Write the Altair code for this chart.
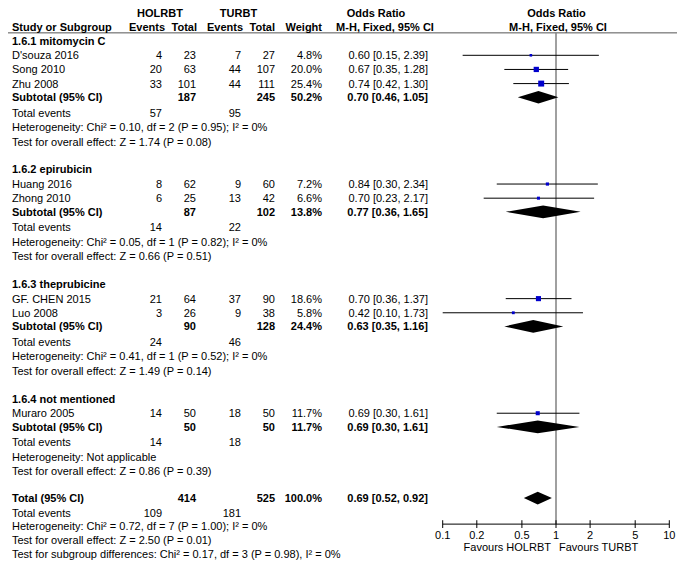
import altair as alt
import pandas as pd

# ---------------- data ----------------
groups = ["1.6.1 mitomycin C", "1.6.2 epirubicin", "1.6.3 theprubicine", "1.6.4 not mentioned"]
studies = ["D'souza 2016", "Song 2010", "Zhu 2008", "Huang 2016", "Zhong 2010",
           "GF. CHEN 2015", "Luo 2008", "Muraro 2005"]
study_group = [0, 0, 0, 1, 1, 2, 2, 3]
hol_events = [4, 20, 33, 8, 6, 21, 3, 14]
hol_total = [23, 63, 101, 62, 25, 64, 26, 50]
tur_events = [7, 44, 44, 9, 13, 37, 9, 18]
tur_total = [27, 107, 111, 60, 42, 90, 38, 50]
weights = [4.8, 20.0, 25.4, 7.2, 6.6, 18.6, 5.8, 11.7]
or_est = [0.60, 0.67, 0.74, 0.84, 0.70, 0.70, 0.42, 0.69]
or_lo = [0.15, 0.35, 0.42, 0.30, 0.23, 0.36, 0.10, 0.30]
or_hi = [2.39, 1.28, 1.30, 2.34, 2.17, 1.37, 1.73, 1.61]

sub_hol_total = [187, 87, 90, 50]
sub_tur_total = [245, 102, 128, 50]
sub_weight = [50.2, 13.8, 24.4, 11.7]
sub_est = [0.70, 0.77, 0.63, 0.69]
sub_lo = [0.46, 0.36, 0.35, 0.30]
sub_hi = [1.05, 1.65, 1.16, 1.61]
sub_hol_events = [57, 14, 24, 14]
sub_tur_events = [95, 22, 46, 18]
sub_heterogeneity = [
    "Heterogeneity: Chi² = 0.10, df = 2 (P = 0.95); I² = 0%",
    "Heterogeneity: Chi² = 0.05, df = 1 (P = 0.82); I² = 0%",
    "Heterogeneity: Chi² = 0.41, df = 1 (P = 0.52); I² = 0%",
    "Heterogeneity: Not applicable",
]
sub_overall = [
    "Test for overall effect: Z = 1.74 (P = 0.08)",
    "Test for overall effect: Z = 0.66 (P = 0.51)",
    "Test for overall effect: Z = 1.49 (P = 0.14)",
    "Test for overall effect: Z = 0.86 (P = 0.39)",
]
total_hol_total, total_tur_total, total_weight = 414, 525, 100.0
total_est, total_lo, total_hi = 0.69, 0.52, 0.92
total_hol_events, total_tur_events = 109, 181
total_heterogeneity = "Heterogeneity: Chi² = 0.72, df = 7 (P = 1.00); I² = 0%"
total_overall = "Test for overall effect: Z = 2.50 (P = 0.01)"
subgroup_diff = "Test for subgroup differences: Chi² = 0.17, df = 3 (P = 0.98), I² = 0%"

tick_values = [0.1, 0.2, 0.5, 1, 2, 5, 10]
tick_labels = ["0.1", "0.2", "0.5", "1", "2", "5", "10"]
left_favour, right_favour = "Favours HOLRBT", "Favours TURBT"

# ---------------- layout ----------------
FONT = "Liberation Sans"
FS = 11
W, H = 669, 552
PX = alt.Scale(domain=[8, 677], range=[0, W], zero=False, nice=False)
YS = alt.Scale(domain=[-1.5, 564.5], range=[0, H], zero=False, nice=False)
LOG = alt.Scale(type="log", domain=[0.1, 10], range=[434.7, 661.3], nice=False)

C_STUDY, C_HE, C_HT, C_TE, C_TT, C_W, C_OR = 12, 162, 196, 241, 275, 322, 428

texts = []


def T(px, y, text, align="left", bold=False):
    texts.append(dict(px=px, y=y, text=str(text), al=align, bd=bold))


def fmt_or(e, l, h):
    return f"{e:.2f} [{l:.2f}, {h:.2f}]"


# headers
T(160, 5, "HOLRBT", "center", True)
T(238.5, 5, "TURBT", "center", True)
T(376, 5, "Odds Ratio", "center", True)
T(556.5, 5, "Odds Ratio", "center", True)
T(C_STUDY, 19.5, "Study or Subgroup", "left", True)
T(165, 19.5, "Events", "right", True)
T(197, 19.5, "Total", "right", True)
T(243, 19.5, "Events", "right", True)
T(275, 19.5, "Total", "right", True)
T(322, 19.5, "Weight", "right", True)
T(385, 19.5, "M-H, Fixed, 95% CI", "center", True)
T(558, 19.5, "M-H, Fixed, 95% CI", "center", True)

study_rows = []
diamonds = []
y = 33.0
for g, gname in enumerate(groups):
    T(C_STUDY, y, gname, "left", True)
    y += 15
    idx = [i for i, sg in enumerate(study_group) if sg == g]
    for i in idx:
        T(C_STUDY, y, studies[i])
        T(C_HE, y, hol_events[i], "right")
        T(C_HT, y, hol_total[i], "right")
        T(C_TE, y, tur_events[i], "right")
        T(C_TT, y, tur_total[i], "right")
        T(C_W, y, f"{weights[i]:.1f}%", "right")
        T(C_OR, y, fmt_or(or_est[i], or_lo[i], or_hi[i]), "right")
        study_rows.append(dict(est=or_est[i], lo=or_lo[i], hi=or_hi[i], y=y - 1, w=weights[i]))
        y += 14.5
    y -= 0.5
    T(C_STUDY, y, "Subtotal (95% CI)", "left", True)
    T(C_HT, y, sub_hol_total[g], "right", True)
    T(C_TT, y, sub_tur_total[g], "right", True)
    T(C_W, y, f"{sub_weight[g]:.1f}%", "right", True)
    T(C_OR, y, fmt_or(sub_est[g], sub_lo[g], sub_hi[g]), "right", True)
    diamonds.append((g, sub_est[g], sub_lo[g], sub_hi[g], y - 1))
    y += 16
    T(C_STUDY, y, "Total events")
    T(C_HE, y, sub_hol_events[g], "right")
    T(C_TE, y, sub_tur_events[g], "right")
    y += 14.5
    T(C_STUDY, y, sub_heterogeneity[g])
    y += 15
    T(C_STUDY, y, sub_overall[g])
    y += 28.5 if g < len(groups) - 1 else 27.5

T(C_STUDY, y, "Total (95% CI)", "left", True)
T(C_HT, y, total_hol_total, "right", True)
T(C_TT, y, total_tur_total, "right", True)
T(C_W, y, f"{total_weight:.1f}%", "right", True)
T(C_OR, y, fmt_or(total_est, total_lo, total_hi), "right", True)
diamonds.append((9, total_est, total_lo, total_hi, y - 1))
y += 15
T(C_STUDY, y, "Total events")
T(C_HE, y, total_hol_events, "right")
T(C_TE, y, total_tur_events, "right")
y += 13.5
T(C_STUDY, y, total_heterogeneity)
y += 14.5
T(C_STUDY, y, total_overall)
y += 14
T(C_STUDY, y, subgroup_diff)

AXIS_Y = 527.7
HALF = 6.5

tdf = pd.DataFrame(texts)
sdf = pd.DataFrame(study_rows)
drows = []
for gid, e, l, h, yc in diamonds:
    drows += [dict(id=gid, x=l, y1=yc, y2=yc), dict(id=gid, x=e, y1=yc - HALF, y2=yc + HALF),
              dict(id=gid, x=h, y1=yc, y2=yc)]
ddf = pd.DataFrame(drows)
tick_df = pd.DataFrame(dict(v=tick_values, lab=tick_labels, y=AXIS_Y + 11.8,
                            ya=AXIS_Y - 4, yb=AXIS_Y + 4))

layers = []

# header underline
layers.append(
    alt.Chart(pd.DataFrame(dict(x=[5], x2=[677], y=[24])))
    .mark_rule(color="#555555", strokeWidth=1)
    .encode(x=alt.X("x:Q", scale=PX, axis=None), x2="x2:Q", y=alt.Y("y:Q", scale=YS, axis=None))
)
# line of no effect
layers.append(
    alt.Chart(pd.DataFrame(dict(x=[1], y=[24], y2=[AXIS_Y])))
    .mark_rule(color="#808080", strokeWidth=1.5)
    .encode(x=alt.X("x:Q", scale=LOG, axis=None), y=alt.Y("y:Q", scale=YS, axis=None), y2="y2:Q")
)
# CI lines
layers.append(
    alt.Chart(sdf).mark_rule(color="#000000", strokeWidth=1)
    .encode(x=alt.X("lo:Q", scale=LOG, axis=None), x2="hi:Q", y=alt.Y("y:Q", scale=YS, axis=None))
)
# squares
layers.append(
    alt.Chart(sdf).mark_square(color="#0000cc", opacity=1, strokeWidth=0)
    .encode(x=alt.X("est:Q", scale=LOG, axis=None), y=alt.Y("y:Q", scale=YS, axis=None),
            size=alt.Size("w:Q", scale=alt.Scale(domain=[0, 30], range=[0, 42]), legend=None))
)
# diamonds
layers.append(
    alt.Chart(ddf).mark_area(color="#000000", opacity=1, interpolate="linear")
    .encode(x=alt.X("x:Q", scale=LOG, axis=None), y=alt.Y("y1:Q", scale=YS, axis=None), y2="y2:Q",
            detail="id:N")
)
# axis line
layers.append(
    alt.Chart(pd.DataFrame(dict(x=[tick_values[0]], x2=[tick_values[-1]], y=[AXIS_Y])))
    .mark_rule(color="#000000", strokeWidth=1)
    .encode(x=alt.X("x:Q", scale=LOG, axis=None), x2="x2:Q", y=alt.Y("y:Q", scale=YS, axis=None))
)
# ticks
layers.append(
    alt.Chart(tick_df).mark_rule(color="#000000", strokeWidth=1)
    .encode(x=alt.X("v:Q", scale=LOG, axis=None), y=alt.Y("ya:Q", scale=YS, axis=None), y2="yb:Q")
)
layers.append(
    alt.Chart(tick_df).mark_text(font=FONT, fontSize=FS, align="center", baseline="middle", color="#000")
    .encode(x=alt.X("v:Q", scale=LOG, axis=None), y=alt.Y("y:Q", scale=YS, axis=None), text="lab:N")
)
# favours labels
fav_y = AXIS_Y + 24.6
layers.append(
    alt.Chart(pd.DataFrame(dict(x=[1], y=[fav_y], t=[left_favour])))
    .mark_text(font=FONT, fontSize=FS, align="right", baseline="middle", dx=-5, color="#000")
    .encode(x=alt.X("x:Q", scale=LOG, axis=None), y=alt.Y("y:Q", scale=YS, axis=None), text="t:N")
)
layers.append(
    alt.Chart(pd.DataFrame(dict(x=[1], y=[fav_y], t=[right_favour])))
    .mark_text(font=FONT, fontSize=FS, align="left", baseline="middle", dx=3, color="#000")
    .encode(x=alt.X("x:Q", scale=LOG, axis=None), y=alt.Y("y:Q", scale=YS, axis=None), text="t:N")
)
# table text
for align in ["left", "right", "center"]:
    for bold in [False, True]:
        sub = tdf[(tdf["al"] == align) & (tdf["bd"] == bold)]
        if len(sub) == 0:
            continue
        layers.append(
            alt.Chart(sub[["px", "y", "text"]].reset_index(drop=True)).mark_text(
                font=FONT, fontSize=FS, align=align, baseline="middle",
                fontWeight="bold" if bold else "normal", color="#000")
            .encode(x=alt.X("px:Q", scale=PX, axis=None), y=alt.Y("y:Q", scale=YS, axis=None),
                    text="text:N")
        )

chart = (
    alt.layer(*layers)
    .resolve_scale(x="independent")
    .properties(width=W, height=H, padding=0, autosize=alt.AutoSizeParams(type="none"),
                background="white")
    .configure_view(stroke=None)
)

chart.save("out.html", embed_options={"renderer": "svg", "actions": False})
